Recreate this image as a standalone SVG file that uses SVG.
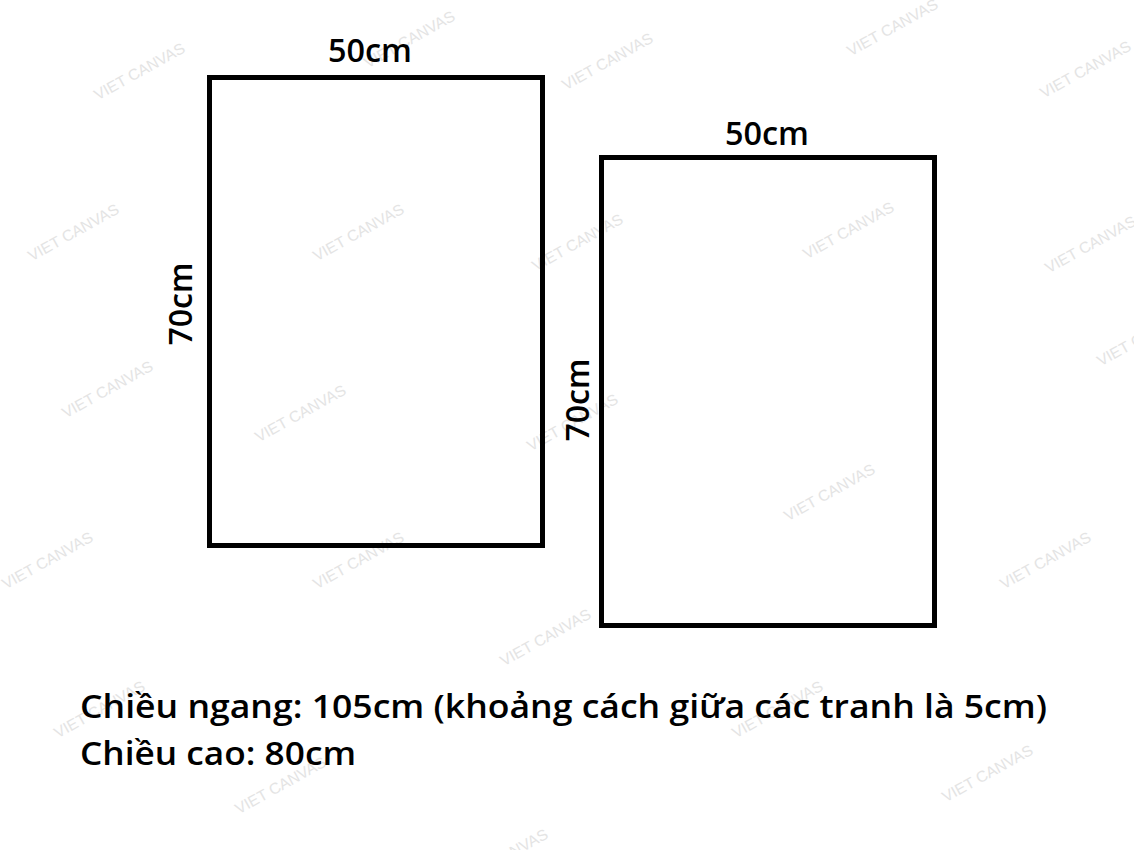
<svg xmlns="http://www.w3.org/2000/svg" width="1134" height="850" viewBox="0 0 1134 850">
<style>
.wm{font-family:"Liberation Sans",Arial,sans-serif;font-size:15.5px;fill:#e4e4e4;text-anchor:middle}
.frame{fill:none;stroke:#000;stroke-width:5}
.lbl{font-family:"Open Sans","Noto Sans","Liberation Sans",sans-serif;font-weight:600;font-size:33px;fill:#000}
.dim{text-anchor:middle}
</style>
<rect width="1134" height="850" fill="#fff"/>
<g id="watermarks">
<text class="wm" transform="translate(142,76) rotate(-29)">VIET CANVAS</text>
<text class="wm" transform="translate(412,44) rotate(-29)">VIET CANVAS</text>
<text class="wm" transform="translate(610,66) rotate(-29)">VIET CANVAS</text>
<text class="wm" transform="translate(895,32) rotate(-29)">VIET CANVAS</text>
<text class="wm" transform="translate(1088,74) rotate(-29)">VIET CANVAS</text>
<text class="wm" transform="translate(76,237) rotate(-29)">VIET CANVAS</text>
<text class="wm" transform="translate(361,237) rotate(-29)">VIET CANVAS</text>
<text class="wm" transform="translate(580,247) rotate(-29)">VIET CANVAS</text>
<text class="wm" transform="translate(851,235) rotate(-29)">VIET CANVAS</text>
<text class="wm" transform="translate(1093,249) rotate(-29)">VIET CANVAS</text>
<text class="wm" transform="translate(110,394) rotate(-29)">VIET CANVAS</text>
<text class="wm" transform="translate(303,418) rotate(-29)">VIET CANVAS</text>
<text class="wm" transform="translate(575,427) rotate(-29)">VIET CANVAS</text>
<text class="wm" transform="translate(1145,342) rotate(-29)">VIET CANVAS</text>
<text class="wm" transform="translate(50,565) rotate(-29)">VIET CANVAS</text>
<text class="wm" transform="translate(361,565) rotate(-29)">VIET CANVAS</text>
<text class="wm" transform="translate(832,497) rotate(-29)">VIET CANVAS</text>
<text class="wm" transform="translate(1048,565) rotate(-29)">VIET CANVAS</text>
<text class="wm" transform="translate(102,714) rotate(-29)">VIET CANVAS</text>
<text class="wm" transform="translate(283,790) rotate(-29)">VIET CANVAS</text>
<text class="wm" transform="translate(548,642) rotate(-29)">VIET CANVAS</text>
<text class="wm" transform="translate(505,862) rotate(-29)">VIET CANVAS</text>
<text class="wm" transform="translate(780,714) rotate(-29)">VIET CANVAS</text>
<text class="wm" transform="translate(990,778) rotate(-29)">VIET CANVAS</text>
</g>
<g id="connectors"/>
<g id="panel-left">
<rect class="frame" x="209.5" y="77.5" width="333" height="468"/>
<text class="lbl dim" x="370" y="62" textLength="84" lengthAdjust="spacingAndGlyphs">50cm</text>
<text class="lbl dim" transform="translate(192,304) rotate(-90)" textLength="83" lengthAdjust="spacingAndGlyphs">70cm</text>
</g>
<g id="panel-right">
<rect class="frame" x="601.5" y="157.5" width="333" height="468"/>
<text class="lbl dim" x="767" y="145" textLength="84" lengthAdjust="spacingAndGlyphs">50cm</text>
<text class="lbl dim" transform="translate(589,400) rotate(-90)" textLength="83" lengthAdjust="spacingAndGlyphs">70cm</text>
</g>
<g id="caption">
<text class="lbl" x="80" y="718" textLength="967" lengthAdjust="spacingAndGlyphs">Chiều ngang: 105cm (khoảng cách giữa các tranh là 5cm)</text>
<text class="lbl" x="80" y="765" textLength="276" lengthAdjust="spacingAndGlyphs">Chiều cao: 80cm</text>
</g>
</svg>
